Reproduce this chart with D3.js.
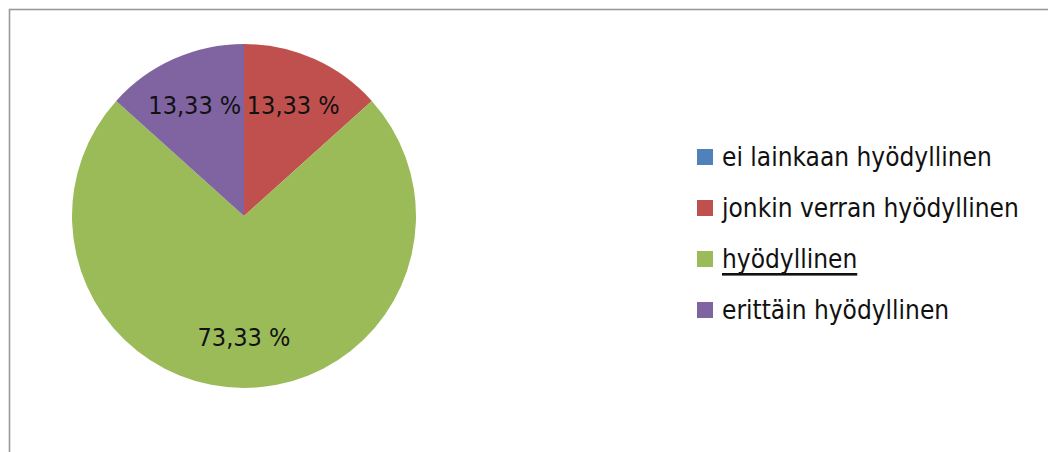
<!DOCTYPE html>
<html>
<head>
<meta charset="utf-8">
<script src="https://cdn.jsdelivr.net/npm/d3@7"></script>
<style>
    body { margin: 0; background: #fff; }
    svg text { font-family: "DejaVu Sans Condensed", "DejaVu Sans", sans-serif; font-stretch: condensed; fill: #111; }
</style>
</head>
<body>
<svg id="chart"></svg>
<script>
// Data
const categories = ['ei lainkaan hyödyllinen', 'jonkin verran hyödyllinen', 'hyödyllinen', 'erittäin hyödyllinen'];
const values = [0, 13.33, 73.33, 13.33];
const colors = ['#4F81BD', '#C0504D', '#9BBB59', '#8064A2'];

const width = 1048;
const height = 452;

const svg = d3.select('#chart')
    .attr('width', width)
    .attr('height', height);

// Chart border (extends past the window on right/bottom)
svg.append('rect')
    .attr('x', 9.5)
    .attr('y', 9.5)
    .attr('width', 1100)
    .attr('height', 500)
    .attr('fill', 'none')
    .attr('stroke', '#9a9a9a')
    .attr('stroke-width', 1.6);

const cx = 244, cy = 216, radius = 172;

const pie = d3.pie().sort(null).value(d => d.value);
const arcs = pie(categories.map((c, i) => ({ name: c, value: values[i], color: colors[i] })));

const arc = d3.arc().innerRadius(0).outerRadius(radius);
const labelArc = d3.arc().innerRadius(121).outerRadius(121);

const g = svg.append('g').attr('transform', `translate(${cx},${cy})`);

g.selectAll('path')
    .data(arcs.filter(d => d.data.value > 0))
    .join('path')
    .attr('d', arc)
    .attr('fill', d => d.data.color);

const fmt = v => v.toFixed(2).replace('.', ',') + ' %';

g.selectAll('text.label')
    .data(arcs.filter(d => d.data.value > 0))
    .join('text')
    .attr('class', 'label')
    .attr('transform', d => `translate(${labelArc.centroid(d)})`)
    .attr('text-anchor', 'middle')
    .attr('dominant-baseline', 'central')
    .style('font-size', '25px')
    .text(d => fmt(d.data.value));

// Legend
const legend = svg.append('g').attr('transform', 'translate(697,157)');
const item = legend.selectAll('g')
    .data(categories)
    .join('g')
    .attr('transform', (d, i) => `translate(0,${i * 51})`);

item.append('rect')
    .attr('x', 0)
    .attr('y', -8)
    .attr('width', 16)
    .attr('height', 16)
    .attr('fill', (d, i) => colors[i]);

item.append('text')
    .attr('x', 25)
    .attr('y', 0)
    .attr('dominant-baseline', 'central')
    .style('font-size', '26px')
    .style('text-decoration', d => d === 'hyödyllinen' ? 'underline' : null)
    .text(d => d);
</script>
</body>
</html>
